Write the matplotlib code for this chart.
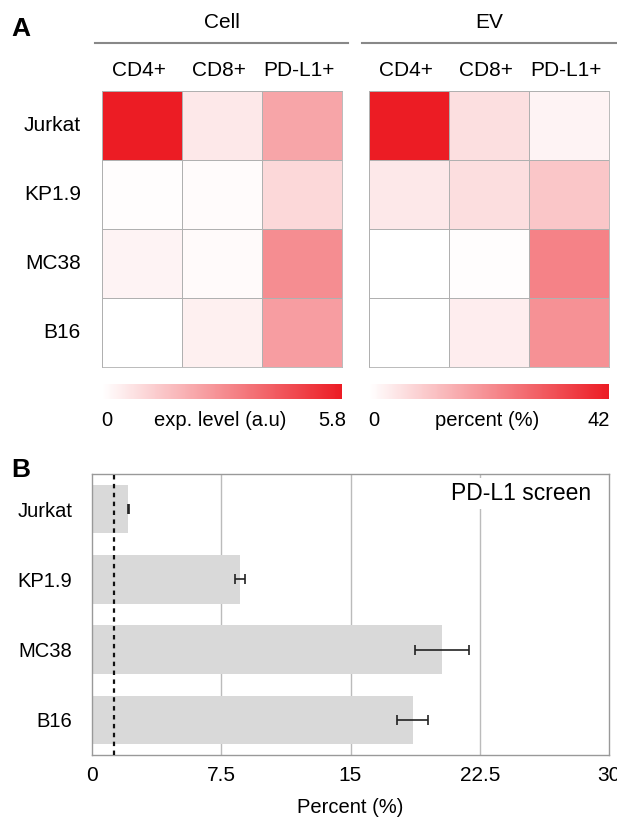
import numpy as np
import matplotlib
matplotlib.use("Agg")
import matplotlib.pyplot as plt
from matplotlib.colors import LinearSegmentedColormap, Normalize
from matplotlib.cm import ScalarMappable

plt.rcParams['font.family'] = ['Liberation Sans', 'DejaVu Sans']

# ---- data ----
rows = ["Jurkat", "KP1.9", "MC38", "B16"]
markers = ["CD4+", "CD8+", "PD-L1+"]
cell_vals = [[5.8, 0.6, 2.3],
             [0.05, 0.12, 1.0],
             [0.3, 0.15, 2.9],
             [0.0, 0.4, 2.5]]
ev_vals = [[42.0, 6.0, 2.2],
           [4.3, 6.2, 10.5],
           [0.0, 0.4, 23.0],
           [0.0, 3.3, 20.5]]
cell_max = 5.8
ev_max = 42
screen_lines = ["Jurkat", "KP1.9", "MC38", "B16"]
screen_pct = [2.1, 8.6, 20.3, 18.6]
screen_err = [0.02, 0.3, 1.55, 0.9]
threshold = 1.25
xticks = [0, 7.5, 15, 22.5, 30]
xticklabels = ["0", "7.5", "15", "22.5", "30"]

W, H = 617, 819
fig = plt.figure(figsize=(W / 100, H / 100), dpi=100)

def fx(x):
    return x / W

def fy(y):
    return 1 - y / H

cmap = LinearSegmentedColormap.from_list("wr", ["#FFFFFF", "#EC1C24"])
grid_col = "#B0B0B0"

def heat(x0, x1, vals, vmax, title, line_x0, line_x1, cb_labels):
    y0, y1 = 91, 367
    ax = fig.add_axes([fx(x0), fy(y1), fx(x1 - x0), (y1 - y0) / H])
    arr = np.array(vals)
    ax.pcolormesh(arr, cmap=cmap, vmin=0, vmax=vmax, edgecolors=grid_col, linewidth=0.6)
    ax.set_xlim(0, 3)
    ax.set_ylim(4, 0)
    ax.set_xticks([])
    ax.set_yticks([])
    for s in ax.spines.values():
        s.set_color(grid_col)
        s.set_linewidth(0.6)
    # column labels
    for j, m in enumerate(markers):
        fig.text(fx(x0 + (j + 0.5) * (x1 - x0) / 3 - 3), fy(70), m, ha="center", va="center", fontsize=15)
    # header
    fig.text(fx((line_x0 + line_x1) / 2), fy(22), title, ha="center", va="center", fontsize=15)
    fig.add_artist(plt.Line2D([fx(line_x0), fx(line_x1)], [fy(43), fy(43)], color="#888888", lw=1.5))
    # colorbar
    cax = fig.add_axes([fx(x0), fy(399), fx(x1 - x0), 15 / H])
    cb = fig.colorbar(ScalarMappable(norm=Normalize(0, vmax), cmap=cmap), cax=cax, orientation="horizontal")
    cb.outline.set_visible(False)
    cb.set_ticks([])
    lo, mid, hi = cb_labels
    fig.text(fx(x0 + 5), fy(421), lo, ha="center", va="center", fontsize=14.5)
    fig.text(fx((x0 + x1) / 2 - 2), fy(421), mid, ha="center", va="center", fontsize=14.5)
    fig.text(fx(x1 - 10), fy(421), hi, ha="center", va="center", fontsize=14.5)
    return ax

ax1 = heat(102, 342, cell_vals, cell_max, "Cell", 95, 348, ("0", "exp. level (a.u)", "5.8"))
ax2 = heat(369, 609, ev_vals, ev_max, "EV", 362, 617, ("0", "percent (%)", "42"))

for i, r in enumerate(rows):
    fig.text(fx(81), fy(91 + (i + 0.5) * 69), r, ha="right", va="center", fontsize=15)

fig.text(fx(11), fy(29), "A", ha="left", va="center", fontsize=19, fontweight="bold")
fig.text(fx(11), fy(470), "B", ha="left", va="center", fontsize=19, fontweight="bold")

# ---- panel B ----
axb = fig.add_axes([fx(92), fy(755), fx(609 - 92), (755 - 474) / H])
y = np.arange(len(screen_lines))
axb.barh(y, screen_pct, height=0.69, color="#D9D9D9", zorder=2)
axb.errorbar(screen_pct, y, xerr=screen_err, fmt="none", ecolor="#222222", elinewidth=1.2,
             capsize=3.5, capthick=1.2, zorder=3)
axb.axvline(threshold, color="#111111", lw=1.6, ls=(0, (2, 2)), zorder=4)
for gx in [7.5, 15, 22.5]:
    axb.axvline(gx, color="#BBBBBB", lw=1, zorder=1)
axb.set_xlim(0, 30)
axb.set_ylim(3.5, -0.5)
axb.set_yticks(y)
axb.set_yticklabels(screen_lines, fontsize=14.5)
axb.set_xticks(xticks)
axb.set_xticklabels(xticklabels, fontsize=15)
axb.tick_params(axis="both", length=0)
axb.tick_params(axis="y", pad=14)
axb.tick_params(axis="x", pad=8)
for s in axb.spines.values():
    s.set_color("#999999")
    s.set_linewidth(1.0)
axb.set_xlabel("Percent (%)", fontsize=14.5, labelpad=9)
axb.text(24.9, -0.22, "PD-L1 screen", ha="center", va="center", fontsize=16.5,
         bbox=dict(facecolor="white", edgecolor="none", pad=3), zorder=5)

fig.savefig("out.png", dpi=100)
